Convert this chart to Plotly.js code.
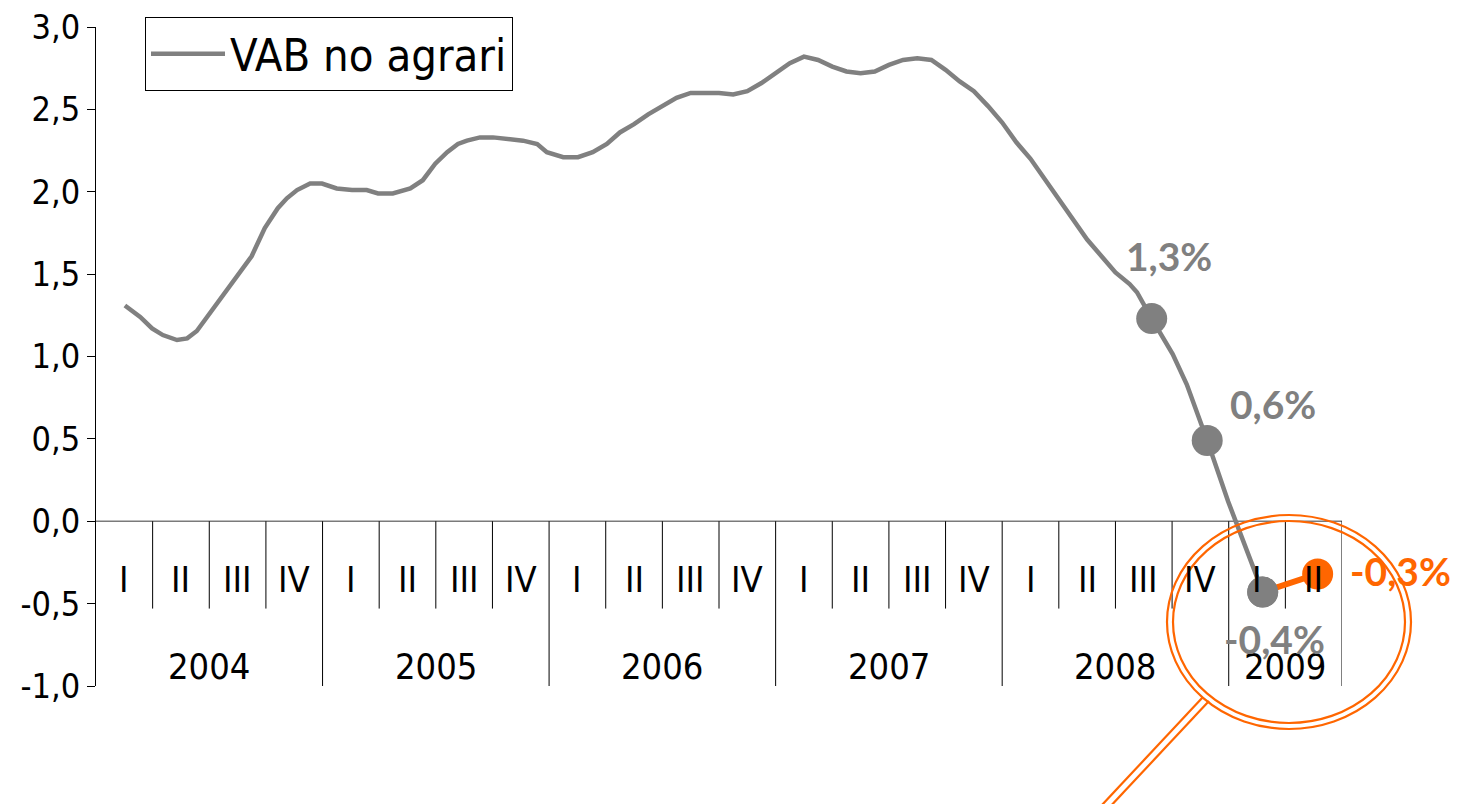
<!DOCTYPE html>
<html>
<head>
<meta charset="utf-8">
<script src="https://cdn.plot.ly/plotly-3.0.1.min.js"></script>
<style>html,body{margin:0;padding:0;background:#fff;}#chart{width:1468px;height:804px;}</style>
</head>
<body>
<div id="chart"></div>
<script>
// ---- data (x in quarter positions from 2004 I start = 0) ----
const lineX = [0.51,0.78,0.99,1.18,1.43,1.61,1.78,2.75,2.98,3.21,3.37,3.55,3.78,3.99,4.25,4.52,4.78,4.98,5.24,5.55,5.77,5.99,6.20,6.39,6.55,6.78,7.01,7.31,7.54,7.79,7.96,8.25,8.51,8.77,9.02,9.25,9.50,9.75,10.0,10.25,10.5,10.75,11.0,11.25,11.5,11.75,12.0,12.25,12.5,12.75,13.0,13.25,13.5,13.75,14.0,14.25,14.5,14.75,15.0,15.25,15.5,15.75,16.0,16.25,16.5,16.75,17.0,17.25,17.5,17.75,18.0,18.25,18.38,18.64,19.01,19.26,19.62,19.99,20.60];
const lineY = [1.31,1.24,1.17,1.13,1.10,1.11,1.155,1.61,1.78,1.90,1.96,2.01,2.05,2.05,2.02,2.01,2.01,1.99,1.99,2.02,2.07,2.17,2.24,2.29,2.31,2.33,2.33,2.32,2.31,2.29,2.24,2.21,2.21,2.24,2.29,2.36,2.41,2.47,2.52,2.57,2.60,2.60,2.60,2.59,2.61,2.66,2.72,2.78,2.82,2.80,2.76,2.73,2.72,2.73,2.77,2.80,2.81,2.80,2.74,2.67,2.61,2.52,2.42,2.30,2.20,2.08,1.95,1.84,1.71,1.61,1.51,1.44,1.39,1.23,1.015,0.83,0.49,0.12,-0.43];
const markX = [18.64, 19.62, 20.60];
const markY = [1.23, 0.49, -0.43];
const markLabels = ['1,3%', '0,6%', '-0,4%'];
const orangeX = [20.60, 21.57];
const orangeY = [-0.43, -0.32];
const orangeLabel = '-0,3%';
const seriesName = 'VAB no agrari';
const quarterNames = ['I','II','III','IV'];
const years = ['2004','2005','2006','2007','2008','2009'];
const quartersPerYear = [4,4,4,4,4,2];
const yTicks = [-1,-0.5,0,0.5,1,1.5,2,2.5,3];
const yTickText = ['-1,0','-0,5','0,0','0,5','1,0','1,5','2,0','2,5','3,0'];

// ---- styling ----
const GRAY = '#808080';
const ORANGE = '#FF6600';
const NARROW = '"Liberation Sans Narrow","Arial Narrow","DejaVu Sans Condensed",sans-serif';
const BOLD = 'Lato, "Open Sans", sans-serif';
const W = 1468, H = 804, L = 96, R = 1342, T = 27, B = 686;
const px = x => (x - L) / (R - L);
const py = y => (B - y) / (B - T);

const nQ = quartersPerYear.reduce((a,b)=>a+b,0);

const traces = [
  {x: lineX, y: lineY, type: 'scatter', mode: 'lines', name: seriesName,
   line: {color: GRAY, width: 4.5}, showlegend: true, hoverinfo: 'skip'},
  {x: markX, y: markY, type: 'scatter', mode: 'markers', showlegend: false,
   marker: {color: GRAY, size: 31}, hoverinfo: 'skip'},
  {x: orangeX, y: orangeY, type: 'scatter', mode: 'lines', showlegend: false,
   line: {color: ORANGE, width: 6}, hoverinfo: 'skip'},
  {x: [orangeX[1]], y: [orangeY[1]], type: 'scatter', mode: 'markers', showlegend: false,
   marker: {color: ORANGE, size: 31}, hoverinfo: 'skip'},
  {x: [markX[2]], y: [markY[2]], type: 'scatter', mode: 'markers', showlegend: false,
   marker: {color: GRAY, size: 31}, hoverinfo: 'skip'}
];

const shapes = [];
const annotations = [];
// zero line
shapes.push({type:'line', xref:'x', yref:'y', x0:0, x1:nQ, y0:0, y1:0, line:{color:'#7a7a7a', width:1.5}, layer:'below'});
// separators + labels
let q = 0;
const yearEnds = new Set();
quartersPerYear.forEach((n, i) => {
  const start = q;
  for (let k = 0; k < n; k++) {
    annotations.push({x: q + 0.5, y: -0.352, xref:'x', yref:'y', text: quarterNames[k], showarrow:false,
      font:{family: NARROW, size: 36, color:'#000'}});
    q++;
  }
  yearEnds.add(q);
  annotations.push({x: (start + q) / 2, y: -0.88, xref:'x', yref:'y', text: years[i], showarrow:false,
    font:{family: NARROW, size: 36, color:'#000'}});
});
for (let k = 1; k <= nQ; k++) {
  const full = yearEnds.has(k);
  shapes.push({type:'line', xref:'x', yref:'y', x0:k, x1:k, y0:0, y1: full ? -1.04 : -0.53,
    line:{color:'#000', width:1}, layer:'below'});
}
// value labels
const labelShift = [[17,-63],[66,-37],[12,47]];
markLabels.forEach((t, i) => {
  annotations.push({x: markX[i], y: markY[i], xref:'x', yref:'y', text: t, showarrow:false,
    xshift: labelShift[i][0], yshift: -labelShift[i][1],
    font:{family: BOLD, size: 39, color: GRAY, weight: 700}});
});
annotations.push({x: orangeX[1], y: orangeY[1], xref:'x', yref:'y', text: orangeLabel, showarrow:false,
  xanchor:'left', xshift: 30, yshift: 3,
  font:{family: BOLD, size: 39, color: ORANGE, weight: 700}});

// magnifier decoration
const ell = (x0,y0,x1,y1) => ({type:'circle', xref:'paper', yref:'paper', x0:px(x0), x1:px(x1), y0:py(y1), y1:py(y0),
  line:{color: ORANGE, width: 2.2}, layer:'above'});
shapes.push(ell(1167,515,1411,729));
shapes.push(ell(1173,521,1405,723));
shapes.push({type:'line', xref:'paper', yref:'paper', x0:px(1203), y0:py(697), x1:px(1101), y1:py(806), line:{color:ORANGE, width:2.2}});
shapes.push({type:'line', xref:'paper', yref:'paper', x0:px(1209), y0:py(701), x1:px(1107), y1:py(810), line:{color:ORANGE, width:2.2}});

const layout = {
  width: W, height: H,
  margin: {l: L, r: W - R, t: T, b: H - B, pad: 0},
  paper_bgcolor: '#fff', plot_bgcolor: 'rgba(0,0,0,0)',
  showlegend: true,
  legend: {x: px(145), y: py(17), xanchor:'left', yanchor:'top', bgcolor:'#fff', bordercolor:'#000', borderwidth:1,
    font:{family: NARROW, size: 45, color:'#000'}, itemwidth: 74},
  xaxis: {range: [0, nQ], visible: false, fixedrange: true},
  yaxis: {range: [-1, 3], tickvals: yTicks, ticktext: yTickText, showgrid: false, zeroline: false,
    showline: true, linecolor:'#000', linewidth: 1, ticks:'outside', ticklen: 8, tickcolor:'#000',
    tickfont:{family: NARROW, size: 34, color:'#000'}, fixedrange: true},
  shapes: shapes,
  annotations: annotations
};

Plotly.newPlot('chart', traces, layout, {displayModeBar: false, staticPlot: true});
</script>
</body>
</html>
